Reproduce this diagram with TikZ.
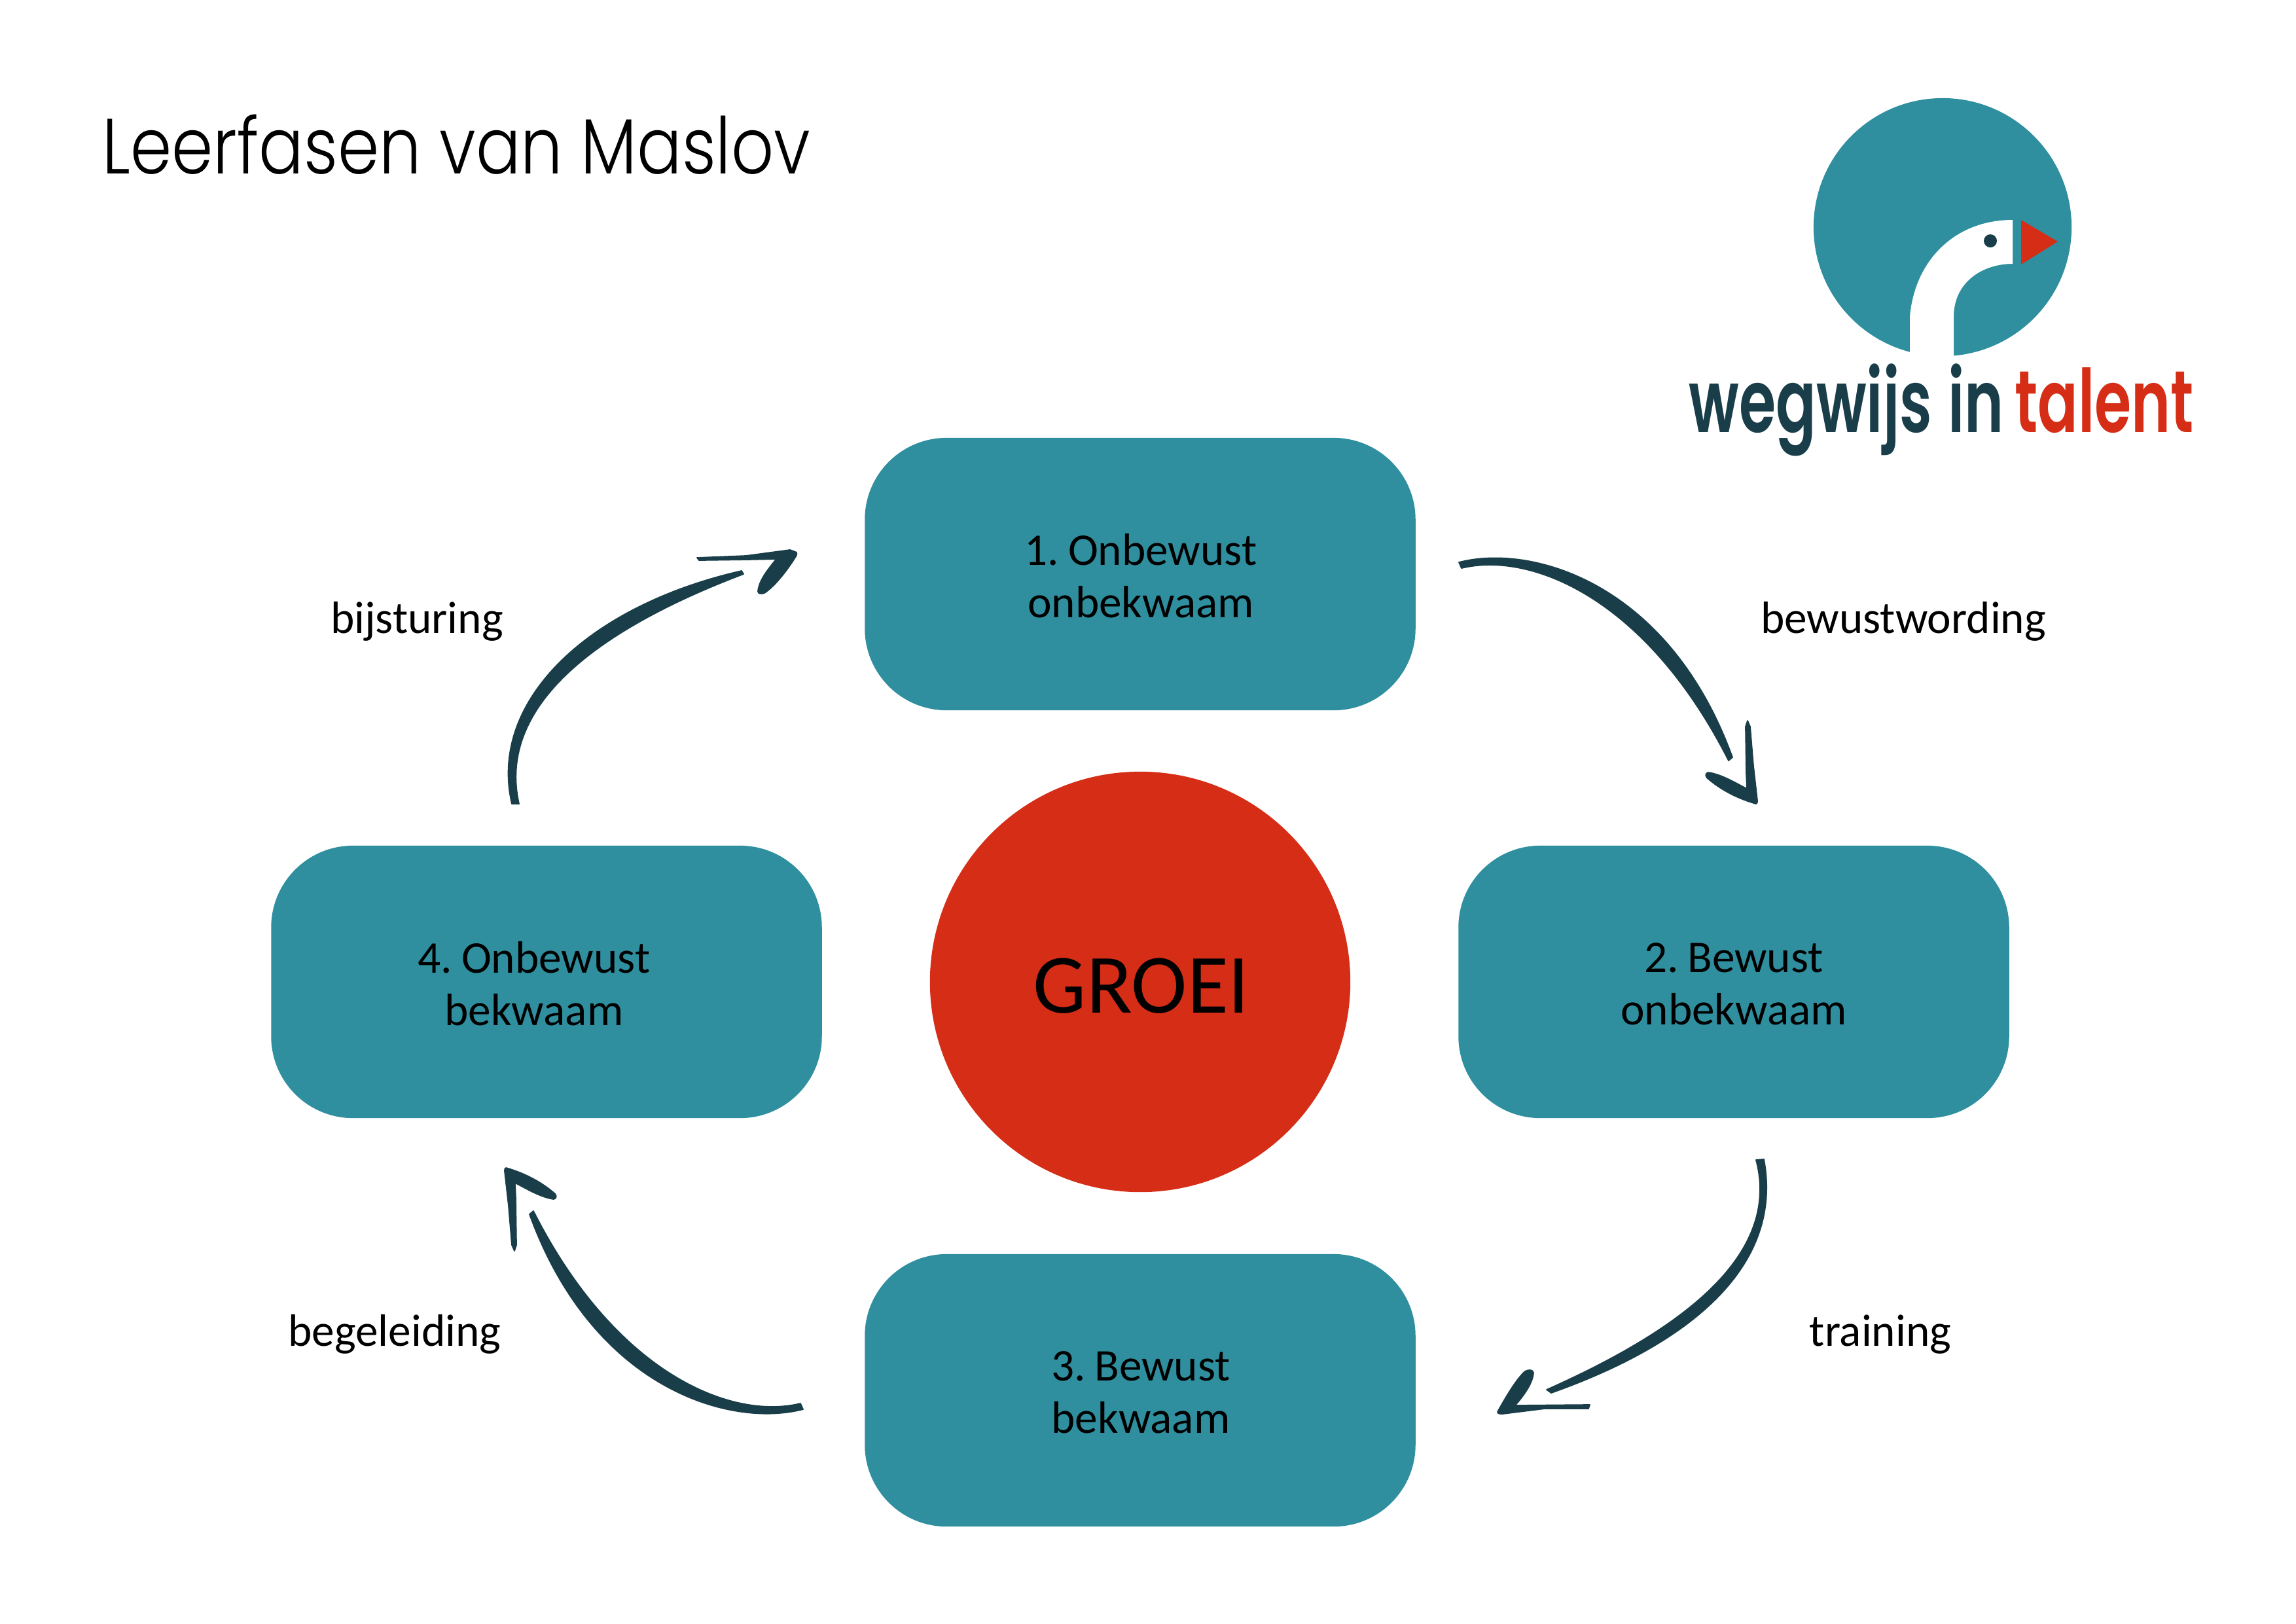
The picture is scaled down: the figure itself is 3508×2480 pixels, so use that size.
\documentclass[tikz,border=0pt]{standalone}
\usepackage{fontspec}
\setmainfont[WordSpace=0.55]{Carlito}
\newfontfamily\titlefont[FakeStretch=0.85]{Poppins Light}
\newfontfamily\logofont[FakeStretch=0.68]{Poppins SemiBold}
\definecolor{teal}{HTML}{2F8F9F}
\definecolor{dark}{HTML}{193E4A}
\definecolor{tred}{HTML}{D52D16}
\tikzset{
  stepbox/.style={rectangle,rounded corners=1.25cm,fill=teal,minimum width=8.41cm,minimum height=4.16cm,inner sep=0pt},
  boxtext/.style={inner sep=0pt,align=center,font=\fontsize{19.7}{22.8}\selectfont},
  sidelabel/.style={inner sep=0pt,anchor=base,font=\fontsize{19.7}{22.8}\selectfont},
  brush/.style={fill=dark,draw=dark,line width=0.5pt,line join=round},
  logoword/.style={inner sep=0pt,anchor=base west,font=\logofont\fontsize{38}{40}\selectfont},
}
\begin{document}
\begin{tikzpicture}[x=0.01cm,y=-0.01cm]
\useasboundingbox (0,0) rectangle (3508,2480);
% boxes
\node[stepbox] (b1) at (1742,877) {};
\node[stepbox] (b2) at (2649,1500) {};
\node[stepbox] (b3) at (1742,2124) {};
\node[stepbox] (b4) at (835,1500) {};
\node[boxtext] (t1) at (1743,880) {1. Onbewust\\onbekwaam};
\node[boxtext] (t2) at (2649,1503) {2. Bewust\\onbekwaam};
\node[boxtext] (t3) at (1743,2127) {3. Bewust\\bekwaam};
\node[boxtext] (t4) at (816,1503) {4. Onbewust\\bekwaam};
\node[circle,fill=tred,minimum size=6.42cm,inner sep=0pt] (groei) at (1742,1500) {};
\node[inner sep=0pt,anchor=base,font=\fontsize{36.6}{40}\selectfont] (groeit) at (1744,1547) {GROEI};
% labels
\node[sidelabel] (l1) at (2908,967) {bewustwording};
\node[sidelabel] (l2) at (2873,2056) {training};
\node[sidelabel] (l3) at (603,2056) {begeleiding};
\node[sidelabel] (l4) at (637,967) {bijsturing};
% title
\node[inner sep=0pt,anchor=base west,font=\titlefont\fontsize{34}{40}\selectfont] (title) at (156,265) {Leerfasen van Maslov};
% logo
\node[circle,fill=teal,minimum size=3.94cm,inner sep=0pt] (logo) at (2968,347) {};
\fill[white] (2918,550) -- (2918,484) .. controls (2925,400) and (2985,336) .. (3075,336) -- (3075,403) .. controls (3030,403) and (2985,430) .. (2985,484) -- (2985,550) -- cycle;
\node[circle,fill=dark,minimum size=0.2cm,inner sep=0pt] (eye) at (3041,368) {};
\fill[tred] (3088,336) -- (3144,369) -- (3088,404) -- cycle;
\node[logoword,text=dark] (logoa) at (2580,660) {wegwijs};
\node[logoword,text=dark] (logob) at (2976,660) {in};
\node[logoword,text=tred] (logoc) at (3078,660) {talent};
% arrow 1 to 2 and arrow 3 to 4 are the same brush stroke, turned half way round
\begin{scope}
\coordinate (a1t) at (2683,1228);
\fill[brush] (2229,859) .. controls (2340,830) and (2550,890) .. (2647,1157) -- (2641,1162) .. controls (2516,915) and (2340,842) .. (2233,868) -- cycle;
\fill[brush] (2670,1101) -- (2667,1110) -- (2668,1180) -- (2669,1205) .. controls (2650,1195) and (2630,1183) .. (2610,1180) .. controls (2604,1181) and (2606,1188) .. (2610,1190) .. controls (2630,1207) and (2655,1220) .. (a1t) .. controls (2685,1228) and (2685,1225) .. (2685,1223) -- (2679,1170) -- (2674,1110) -- cycle;
\end{scope}
\begin{scope}[rotate around={180:(1728,1506)}]
\coordinate (a3t) at (2683,1228);
\fill[brush] (2229,859) .. controls (2340,830) and (2550,890) .. (2647,1157) -- (2641,1162) .. controls (2516,915) and (2340,842) .. (2233,868) -- cycle;
\fill[brush] (2670,1101) -- (2667,1110) -- (2668,1180) -- (2669,1205) .. controls (2650,1195) and (2630,1183) .. (2610,1180) .. controls (2604,1181) and (2606,1188) .. (2610,1190) .. controls (2630,1207) and (2655,1220) .. (a3t) .. controls (2685,1228) and (2685,1225) .. (2685,1223) -- (2679,1170) -- (2674,1110) -- cycle;
\end{scope}
% arrow 2 to 3
\coordinate (a2t) at (2288,2157);
\fill[brush] (2695,1771) .. controls (2725,1930) and (2590,2050) .. (2370,2128) -- (2363,2123) .. controls (2565,2033) and (2722,1920) .. (2683,1772) -- cycle;
\fill[brush] (2429,2146) -- (2315,2147) .. controls (2330,2130) and (2342,2112) .. (2343,2097) .. controls (2342,2092) and (2335,2092) .. (2330,2095) .. controls (2318,2105) and (2300,2135) .. (a2t) .. controls (2288,2160) and (2292,2160) .. (2296,2160) -- (2360,2152) -- (2427,2152) -- cycle;
% arrow 4 to 1
\coordinate (a4t) at (1215,843);
\fill[brush] (782,1228) .. controls (745,1070) and (900,925) .. (1133,872) -- (1136,877) .. controls (925,957) and (758,1072) .. (793,1228) -- cycle;
\fill[brush] (1065,852) -- (1140,849) -- (1207,840) -- (a4t) .. controls (1218,843) and (1218,847) .. (1216,850) .. controls (1205,868) and (1185,895) .. (1168,906) .. controls (1162,908) and (1158,907) .. (1158,903) .. controls (1160,885) and (1175,868) .. (1186,854) -- (1140,855) -- (1068,856) -- cycle;
\end{tikzpicture}
\end{document}
